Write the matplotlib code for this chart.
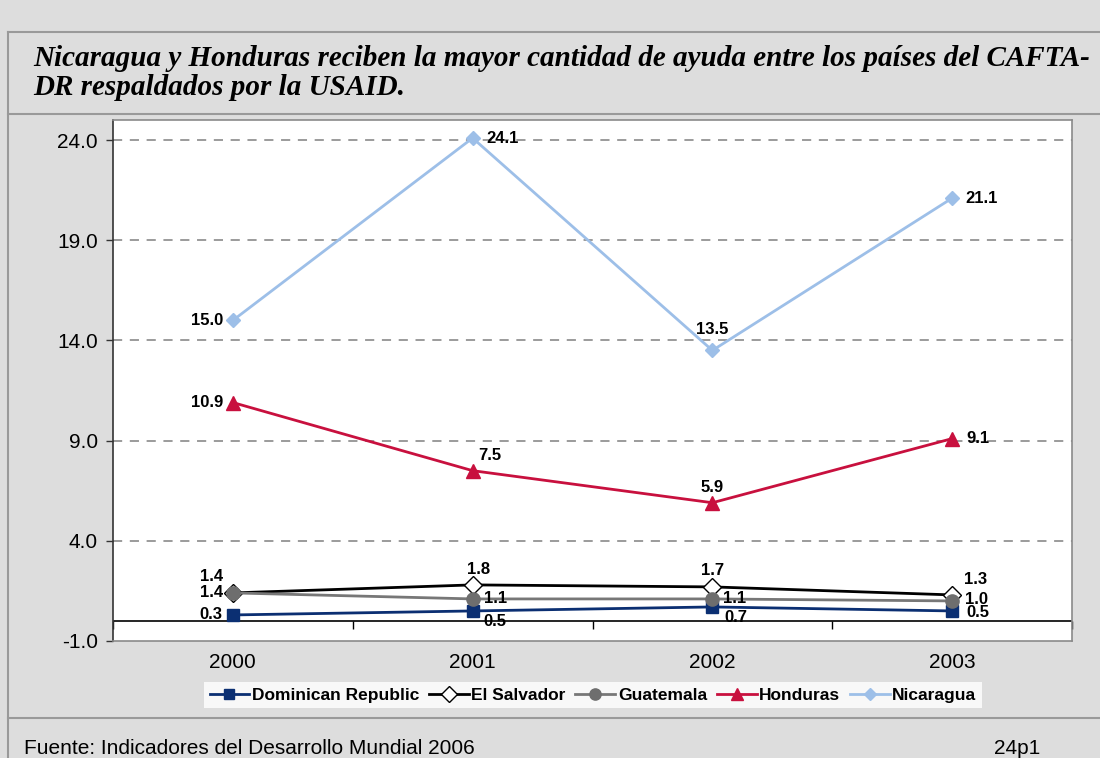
import matplotlib
matplotlib.use("Agg")
import matplotlib.pyplot as plt
from matplotlib.lines import Line2D

# data
years = ["2000", "2001", "2002", "2003"]
dominican = [0.3, 0.5, 0.7, 0.5]
salvador = [1.4, 1.8, 1.7, 1.3]
guatemala = [1.4, 1.1, 1.1, 1.0]
honduras = [10.9, 7.5, 5.9, 9.1]
nicaragua = [15.0, 24.1, 13.5, 21.1]
yticks = [-1.0, 4.0, 9.0, 14.0, 19.0, 24.0]

title = ("Nicaragua y Honduras reciben la mayor cantidad de ayuda entre los países del CAFTA-\n"
         "DR respaldados por la USAID.")
source = "Fuente: Indicadores del Desarrollo Mundial 2006"

plt.rcParams['font.family'] = ['Liberation Sans', 'DejaVu Sans']

bg = "#DDDDDD"
fig = plt.figure(figsize=(11, 7.58), dpi=100, facecolor=bg)
ax = fig.add_axes([113/1100, 1-641/758, (1072-113)/1100, (641-120)/758])
ax.set_facecolor("white")

x = list(range(len(years)))

# (values, label, color, marker, size, face, edge, label offsets in px, alignment)
series = [
    (dominican, "Dominican Republic", "#0B2F72", "s", 8, "#0B2F72", "#0B2F72",
     [(-10, 0, "right"), (11, -11, "left"), (12, -11, "left"), (14, -2, "left")]),
    (salvador, "El Salvador", "black", "D", 9, "white", "black",
     [(-10, 16, "right"), (6, 15, "center"), (0, 16, "center"), (12, 15, "left")]),
    (guatemala, "Guatemala", "#777777", "o", 9.5, "#6E6E6E", "#6E6E6E",
     [(-10, 0, "right"), (11, 0, "left"), (11, 0, "left"), (13, 1, "left")]),
    (honduras, "Honduras", "#C8103E", "^", 9.5, "#C8103E", "#C8103E",
     [(-10, 0, "right"), (17, 15, "center"), (0, 15, "center"), (14, 0, "left")]),
    (nicaragua, "Nicaragua", "#9DBFE8", "D", 7, "#9DBFE8", "#9DBFE8",
     [(-10, 0, "right"), (14, 0, "left"), (0, 21, "center"), (13, 0, "left")]),
]

handles = []
for vals, name, col, mk, ms, fc, ec, offs in series:
    ax.plot(x, vals, color=col, lw=2, marker=mk, markersize=ms,
            markerfacecolor=fc, markeredgecolor=ec, zorder=3)
    handles.append(Line2D([], [], color=col, lw=2, marker=mk, markersize=ms*0.85,
                          markerfacecolor=fc, markeredgecolor=ec, label=name))
    for xi, v, (dx, dy, ha) in zip(x, vals, offs):
        ax.annotate(f"{v:.1f}", (xi, v), xytext=(dx, dy), textcoords="offset pixels",
                    ha=ha, va="center", fontsize=12, fontweight="bold", zorder=4)

ax.set_xlim(-0.5, 3.5)
ax.set_ylim(-1, 25)
ax.set_yticks(yticks)
ax.set_yticklabels([f"{t:.1f}" for t in yticks], fontsize=15)
ax.set_xticks(x)
ax.set_xticklabels(years, fontsize=15)
ax.tick_params(axis="x", length=0, pad=9)
ax.tick_params(axis="y", length=5, width=1, pad=6, color="#333333")

for t in yticks[1:]:
    ax.axhline(t, color="#808080", lw=1.1, ls=(0, (6, 5)), zorder=1)
ax.axhline(0, color="black", lw=1.2, zorder=2)

# category tick marks on the zero line
sec = ax.secondary_xaxis(1/26)
sec.set_xticks([-0.5, 0.5, 1.5, 2.5, 3.5])
sec.set_xticklabels([])
sec.tick_params(length=6, width=1, direction="out", color="black")
sec.spines["bottom"].set_visible(False)

for s in ["top", "right", "bottom"]:
    ax.spines[s].set_color("#8A8A8A")
    ax.spines[s].set_linewidth(1.2)
ax.spines["left"].set_color("#333333")
ax.spines["left"].set_linewidth(1.2)

# frame lines
top = 1 - 32/758
fig.add_artist(Line2D([8/1100, 1], [top]*2, color="#999999", lw=1.5))
fig.add_artist(Line2D([8/1100, 1], [1-114/758]*2, color="#999999", lw=1.5))
fig.add_artist(Line2D([8/1100, 1], [1-718/758]*2, color="#999999", lw=1.5))
fig.add_artist(Line2D([8/1100]*2, [0, top], color="#999999", lw=1.5))

fig.text(33/1100, 1-73/758, title, fontsize=21, fontweight="bold", fontstyle="italic",
         family=["Liberation Serif", "DejaVu Serif"], va="center", ha="left", linespacing=1.1)

leg = fig.legend(handles=handles, loc="center", bbox_to_anchor=(593/1100, 1-695/758),
                 ncol=5, frameon=True, fancybox=False, edgecolor="white", facecolor="white",
                 prop={"weight": "bold", "size": 12.5}, handlelength=2.3, handletextpad=0.15,
                 columnspacing=0.55, borderpad=0.3, borderaxespad=0)
leg.get_frame().set_linewidth(0)

fig.text(24/1100, 1-754/758, source, fontsize=15, ha="left", va="baseline")
fig.text(1040/1100, 1-754/758, "24p1", fontsize=15, ha="right", va="baseline")

fig.savefig("out.png", dpi=100, facecolor=bg)
